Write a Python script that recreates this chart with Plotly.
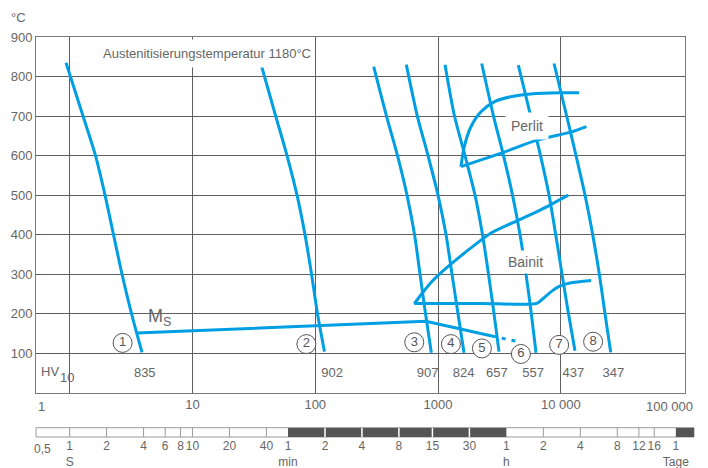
import math
import plotly.graph_objects as go

# ---- cooling curves (time in s, temperature in °C) ----
c1_t = [0.934, 1.285, 1.624, 1.941, 2.276, 2.669, 3.190, 3.884]
c1_T = [835, 700, 600, 500, 400, 300, 200, 102]
c2_t = [36.17, 47.64, 58.89, 71.04, 82.51, 93.23, 104.3, 118.9]
c2_T = [831, 700, 600, 500, 400, 300, 200, 104]
c3_t = [299.2, 380.4, 467.5, 558.7, 643.2, 713.1, 790.6, 881.4]
c3_T = [825, 700, 600, 500, 400, 300, 200, 101]
c4_t = [551.4, 678.0, 828.4, 999.3, 1161, 1299, 1454, 1627]
c4_T = [830, 700, 600, 500, 400, 300, 200, 101]
c5_t = [1140, 1361, 1658, 2000, 2301, 2575, 2856, 3136]
c5_T = [830, 700, 600, 500, 400, 300, 200, 104]
c6_t = [2268, 2829, 3412, 4040, 4650, 5204, 5747, 6278]
c6_T = [833, 700, 600, 500, 400, 300, 200, 101]
c7_t = [4505, 5683, 6829, 8010, 9079, 10220, 11540, 13040]
c7_T = [829, 700, 600, 500, 400, 300, 200, 106]
c8_t = [8800, 11160, 13290, 15730, 18170, 20570, 22880, 25470]
c8_T = [833, 700, 600, 500, 400, 300, 200, 102]

# ---- transformation boundaries ----
perlit_start_t = [1536, 1633, 1853, 2235, 2867, 3920, 5700, 10000, 14090]
perlit_start_T = [572, 622, 673, 711, 736, 749, 756, 759, 759]
perlit_end_t = [1536, 3412, 6380, 12300, 16150]
perlit_end_T = [572, 608, 639, 660, 673]
bainit_start_t = [640, 740, 865, 1043, 1338, 1829, 2663, 4113, 6786, 11480]
bainit_start_T = [225, 251, 277, 302, 331, 365, 403, 431, 462, 500]
bainit_end_t = [640, 2208, 6380, 7218, 8450, 9860, 11890, 17630]
bainit_end_T = [226, 226, 226, 239, 257, 270, 277.5, 284]
ms_t = [3.52, 797, 2745]
ms_T = [151, 180.6, 143.4]
ms_dot_t = [2745, 4385]
ms_dot_T = [143.4, 130]

# ---- curve numbers and hardness HV10 ----
circle_labels = ["1", "2", "3", "4", "5", "6", "7", "8"]
circle_t = [2.70, 84.7, 640, 1273, 2277, 4727, 9684, 18310]
circle_T = [126, 123, 127.5, 123, 112, 98, 121, 129]
hv_labels = ["835", "902", "907", "824", "657", "557", "437", "347"]
hv_t = [4.09, 137, 822, 1613, 3013, 5953, 12670, 26790]
hv_T = 49

# ---- axis ticks ----
y_ticks = [100, 200, 300, 400, 500, 600, 700, 800, 900]
x_ticks = [1, 10, 100, 1000, 10000]
x_ticktext = ["", "10", "100", "1000", "10 000"]

# ---- time scale bar ----
bar_ticks = [1, 2, 4, 6, 8, 10, 20, 40, 60, 120, 240, 480, 900, 1800,
             3600, 7200, 14400, 28800, 43200, 57600, 86400]
bar_labels = ["1<br>S", "2", "4", "6", "8", "10", "20", "40", "1<br>min",
              "2", "4", "8", "15", "30", "1<br>h", "2", "4", "8", "12", "16",
              "1<br>Tage"]
dark_from = [60, 86400]
dark_to = [3600, None]

BLUE = "#009FE3"
TXT = "#666666"
GRID = "#5f5f5f"
FONT = "Liberation Sans, Arial, sans-serif"

W, H = 708, 468
ML, MR, MT, MB = 36, 14, 37, 31
x_range = [-0.274, 5.011]
x_dom_right = (685 - ML) / (W - ML - MR)
y_dom_bottom = (H - MB - 392.7) / (H - MT - MB)
bar_dom_top = (H - MB - 427.7) / (H - MT - MB)
x2_range = [x_range[0], x_range[0] + (x_range[1] - x_range[0]) / x_dom_right]

fig = go.Figure()

curves = [(c1_t, c1_T), (c2_t, c2_T), (c3_t, c3_T), (c4_t, c4_T),
          (c5_t, c5_T), (c6_t, c6_T), (c7_t, c7_T), (c8_t, c8_T)]
for t, T in curves:
    fig.add_trace(go.Scatter(x=t, y=T, mode="lines",
                             line=dict(color=BLUE, width=3, shape="spline", smoothing=0.8),
                             hoverinfo="skip", showlegend=False))

for t, T in [(perlit_start_t, perlit_start_T), (perlit_end_t, perlit_end_T),
             (bainit_start_t, bainit_start_T), (bainit_end_t, bainit_end_T)]:
    fig.add_trace(go.Scatter(x=t, y=T, mode="lines",
                             line=dict(color=BLUE, width=3, shape="spline", smoothing=0.7),
                             hoverinfo="skip", showlegend=False))

fig.add_trace(go.Scatter(x=ms_t, y=ms_T, mode="lines",
                         line=dict(color=BLUE, width=3),
                         hoverinfo="skip", showlegend=False))
fig.add_trace(go.Scatter(x=ms_dot_t, y=ms_dot_T, mode="lines",
                         line=dict(color=BLUE, width=3, dash="4px,6px"),
                         hoverinfo="skip", showlegend=False))

# hardness values
fig.add_trace(go.Scatter(x=hv_t, y=[hv_T] * len(hv_t), mode="text", text=hv_labels,
                         textfont=dict(family=FONT, size=13, color=TXT),
                         hoverinfo="skip", showlegend=False))

# numbered circles
fig.add_trace(go.Scatter(x=circle_t, y=circle_T, mode="markers+text", text=circle_labels,
                         textposition="middle center",
                         marker=dict(size=19, color="white", line=dict(color="#555555", width=1)),
                         textfont=dict(family=FONT, size=13, color="#555555"),
                         cliponaxis=False, hoverinfo="skip", showlegend=False))

# time scale bar: dark spans, dividers
for a, b in zip(dark_from, dark_to):
    b = b if b is not None else 10 ** x2_range[1]
    fig.add_trace(go.Scatter(x=[a, b, b, a, a], y=[0, 0, 1, 1, 0], mode="lines",
                             fill="toself", fillcolor="#555555", line=dict(width=0),
                             xaxis="x2", yaxis="y2", hoverinfo="skip", showlegend=False))


def in_dark(v):
    for a, b in zip(dark_from, dark_to):
        if a < v and (b is None or v < b):
            return True
    return False


grey_x, grey_y, white_x, white_y = [], [], [], []
for v in bar_ticks:
    if v in dark_from or v in dark_to:
        continue
    if in_dark(v):
        white_x += [v, v, None]
        white_y += [0, 1, None]
    else:
        grey_x += [v, v, None]
        grey_y += [0, 1, None]
fig.add_trace(go.Scatter(x=grey_x, y=grey_y, mode="lines", line=dict(color="#9a9a9a", width=1),
                         xaxis="x2", yaxis="y2", hoverinfo="skip", showlegend=False))
fig.add_trace(go.Scatter(x=white_x, y=white_y, mode="lines", line=dict(color="white", width=1.5),
                         xaxis="x2", yaxis="y2", hoverinfo="skip", showlegend=False))

fig.add_shape(type="rect", xref="x2 domain", yref="y2 domain", x0=0, x1=1, y0=0, y1=1,
              fillcolor="white", line=dict(color="#9a9a9a", width=1), layer="below")

axis_font = dict(family=FONT, size=13, color=TXT)
bar_font = dict(family=FONT, size=12, color=TXT)
fig.update_layout(
    width=W, height=H,
    margin=dict(l=ML, r=MR, t=MT, b=MB, pad=0, autoexpand=False),
    paper_bgcolor="white", plot_bgcolor="white",
    font=dict(family=FONT, size=13, color=TXT),
    xaxis=dict(type="log", range=x_range, domain=[0, x_dom_right], anchor="y",
               tickvals=x_ticks, ticktext=x_ticktext, tickfont=axis_font, tickangle=0,
               automargin=False,
               showgrid=True, gridcolor=GRID, gridwidth=1, zeroline=False,
               showline=True, linecolor="#7a7a7a", linewidth=1, mirror=True, ticks=""),
    yaxis=dict(range=[0, 900], domain=[y_dom_bottom, 1], anchor="x",
               tickvals=y_ticks, tickfont=axis_font, automargin=False,
               showgrid=True, gridcolor=GRID, gridwidth=1, zeroline=False,
               showline=True, linecolor="#7a7a7a", linewidth=1, mirror=True, ticks=""),
    xaxis2=dict(type="log", range=x2_range, domain=[0, 1], anchor="y2",
                tickvals=bar_ticks, ticktext=bar_labels, tickfont=bar_font,
                tickangle=0, automargin=False,
                showgrid=False, zeroline=False, showline=False, ticks=""),
    yaxis2=dict(range=[0, 1], domain=[0, bar_dom_top], anchor="x2", visible=False),
)

ann = []
# unit and edge labels
ann.append(dict(text="°C", xref="paper", yref="paper", x=-0.027, y=1.0475,
                xanchor="center", yanchor="middle", showarrow=False, font=axis_font))
ann.append(dict(text="1", xref="x", yref="paper", x=x_range[0], y=y_dom_bottom,
                xanchor="left", yanchor="top", yshift=-4, showarrow=False, font=axis_font))
ann.append(dict(text="100 000", xref="x", yref="paper", x=5, y=y_dom_bottom,
                xanchor="center", yanchor="top", xshift=-14, yshift=-4, showarrow=False, font=axis_font))
ann.append(dict(text="0,5", xref="x2", yref="paper", x=x2_range[0], y=0,
                xanchor="left", yanchor="top", xshift=-4, yshift=-3, showarrow=False, font=bar_font))
# labels inside the diagram
ann.append(dict(text="Austenitisierungstemperatur 1180°C", xref="x", yref="paper",
                x=math.log10(13.1), y=1, xanchor="center", yanchor="top", yshift=-1.5,
                height=27, valign="middle", bgcolor="white", borderpad=0,
                showarrow=False, font=dict(family=FONT, size=13, color=TXT)))
ann.append(dict(text="Perlit", xref="x", yref="y", x=math.log10(5321), y=675,
                bgcolor="white", borderpad=5, showarrow=False,
                font=dict(family=FONT, size=14, color=TXT)))
ann.append(dict(text="Bainit", xref="x", yref="y", x=math.log10(5122), y=331,
                bgcolor="white", borderpad=3, showarrow=False,
                font=dict(family=FONT, size=14, color=TXT)))
ann.append(dict(text="M<sub>S</sub>", xref="x", yref="y", x=math.log10(4.22), y=190,
                xanchor="left", yanchor="middle", showarrow=False,
                font=dict(family=FONT, size=18, color=TXT)))
ann.append(dict(text="HV", xref="x", yref="y", x=math.log10(0.56), y=52.4,
                xanchor="left", yanchor="middle", showarrow=False,
                font=dict(family=FONT, size=13, color=TXT)))
ann.append(dict(text="10", xref="x", yref="y", x=math.log10(0.81), y=39.7,
                xanchor="left", yanchor="middle", showarrow=False,
                font=dict(family=FONT, size=13, color=TXT)))
fig.update_layout(annotations=ann)

fig.write_html("out.html")
